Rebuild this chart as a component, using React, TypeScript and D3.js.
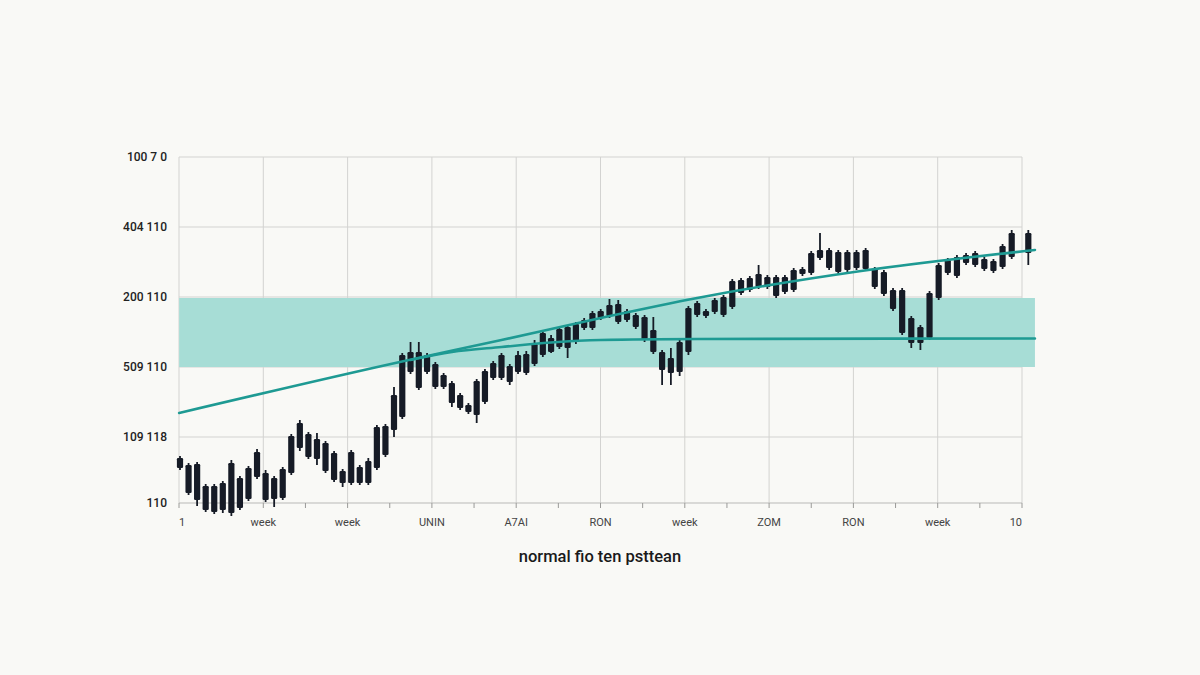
import { useEffect, useRef } from "react";
import * as d3 from "d3";

const width = 1200;
const height = 675;

// candle values (null = no trading in that slot)
const opens = [132, 135, 136, 114, 114, 90, 87, 122, 101, 123, 127, 122, 102, 127, 152, 166, 161, 157, 147, 129,
    117, 133, 117, 132, 145, 170, 183, 228, 248, 228, 236, 225, 217, 205, 195, 185, 198, 222, 222, 234,
    228, 246, 236, 245, 262, 253, 273, 258, 272, 272, 282, 284, 296, 289, 285, 283, 270, 248, 242, 228,
    248, 285, 289, 288, 285, 293, 307, 310, 313, 323, 323, 308, 310, 326, 327, 342, 350, 348, 330, 332,
    331, 331, 328, 310, 310, 282, 273, 262, 302, 327, 343, 337, 335, 341, 339, 333, 343, null, 367];
const closes = [142, 107, 100, 90, 88, 117, 137, 92, 132, 148, 100, 101, 131, 164, 177, 143, 141, 129, 120, 117,
    148, 117, 139, 173, 174, 205, 245, 248, 212, 245, 213, 213, 197, 192, 188, 219, 229, 237, 245, 218,
    245, 227, 256, 267, 248, 271, 252, 276, 280, 287, 289, 295, 278, 280, 273, 260, 248, 230, 227, 258,
    292, 297, 284, 300, 303, 319, 320, 322, 326, 313, 304, 323, 330, 331, 347, 350, 332, 328, 348, 348,
    350, 313, 306, 291, 267, 257, 257, 307, 335, 340, 324, 345, 347, 331, 329, 354, 367, null, 347];
const highs = [144, 137, 138, 116, 116, 119, 140, 124, 134, 151, 130, 124, 133, 166, 180, 168, 167, 159, 149, 131,
    150, 135, 142, 175, 176, 213, 247, 258, 258, 247, 238, 227, 219, 207, 197, 221, 231, 239, 247, 236,
    249, 249, 260, 269, 265, 273, 275, 278, 282, 289, 291, 301, 300, 291, 287, 285, 283, 250, 252, 260,
    294, 299, 291, 302, 305, 321, 322, 324, 335, 325, 325, 325, 332, 333, 349, 367, 352, 350, 350, 350,
    352, 333, 330, 312, 312, 284, 275, 309, 337, 342, 345, 347, 349, 343, 341, 356, 370, null, 370];
const lows = [130, 105, 94, 88, 86, 87, 84, 90, 99, 121, 98, 93, 100, 125, 149, 141, 135, 127, 118, 113,
    115, 115, 115, 130, 143, 163, 181, 226, 210, 226, 211, 211, 193, 190, 186, 177, 196, 220, 220, 215,
    226, 225, 234, 243, 247, 251, 242, 256, 270, 270, 280, 282, 276, 278, 271, 258, 246, 215, 215, 224,
    245, 283, 282, 286, 283, 291, 305, 308, 311, 311, 302, 306, 308, 324, 325, 340, 330, 326, 328, 330,
    329, 311, 304, 289, 265, 252, 250, 260, 300, 325, 322, 335, 333, 329, 327, 331, 341, null, 335];

// slot spacing is uneven in the source; anchor slots for a piecewise time scale
const slotAnchors = [0, 25, 50, 75, 96, 98];

// trend curves: [slot, value]
const trendUpper: [number, number][] = [[-0.1, 187], [25.7, 238], [38, 260], [50, 282], [61, 302], [79.5, 329], [98.8, 350]];
const trendLower: [number, number][] = [[27, 240], [32, 248], [38, 253], [44, 257.5], [50, 260], [61, 261], [98.8, 261.5]];

// shaded zone
const zoneLow = 233;
const zoneHigh = 302;
const zoneStart = -0.1;
const zoneEnd = 98.8;

const yTickValues = [443, 373, 303, 233, 163, 97];
const yTickLabels = ["100 7 0", "404 110", "200 110", "509 110", "109 118", "110"];
const xTickLabels = ["1", "week", "week", "UNIN", "A7AI", "RON", "week", "ZOM", "RON", "week", "10"];
const title = "normal fio ten psttean";

const plot = { left: 179, right: 1022, top: 157, bottom: 503 };

export default function App() {
    const ref = useRef<SVGSVGElement>(null);

    useEffect(() => {
        document.body.style.margin = "0";
        const svg = d3.select(ref.current);
        svg.selectAll("*").remove();

        const x = d3.scaleLinear().domain(slotAnchors).range([180, 394, 600.7, 820, 1011.7, 1028.3]);
        const y = d3.scaleLinear().domain([97, 443]).range([plot.bottom, plot.top]);
        const grid = d3.scaleLinear().domain([0, xTickLabels.length - 1]).range([plot.left, plot.right]);

        svg.append("rect")
            .attr("width", width)
            .attr("height", height)
            .attr("fill", "#f9f9f6");

        // grid
        const g = svg.append("g");
        g.selectAll("line.v")
            .data(d3.range(xTickLabels.length)).enter().append("line")
                .attr("x1", d => grid(d)).attr("x2", d => grid(d))
                .attr("y1", plot.top).attr("y2", plot.bottom)
                .attr("stroke", "#d3d3d1")
                .attr("stroke-width", 1);
        g.selectAll("line.h")
            .data(yTickValues).enter().append("line")
                .attr("x1", plot.left).attr("x2", plot.right)
                .attr("y1", d => y(d)).attr("y2", d => y(d))
                .attr("stroke", d => d === 97 ? "#b9b9b7" : "#d3d3d1")
                .attr("stroke-width", 1);

        // shaded zone
        svg.append("rect")
            .attr("x", x(zoneStart))
            .attr("y", y(zoneHigh))
            .attr("width", x(zoneEnd) - x(zoneStart))
            .attr("height", y(zoneLow) - y(zoneHigh))
            .attr("fill", "#a7ddd6");

        // x ticks (major on grid, minor between)
        const ticks = svg.append("g");
        ticks.selectAll("line")
            .data(d3.range(0, xTickLabels.length - 0.5, 0.5)).enter().append("line")
                .attr("x1", d => grid(d)).attr("x2", d => grid(d))
                .attr("y1", plot.bottom).attr("y2", plot.bottom + 5)
                .attr("stroke", "#9a9a98")
                .attr("stroke-width", 1);

        // candles
        const candles = d3.range(opens.length).filter(i => opens[i] !== null);
        const c = svg.append("g");
        c.selectAll("line")
            .data(candles).enter().append("line")
                .attr("x1", i => x(i)).attr("x2", i => x(i))
                .attr("y1", i => y(highs[i] as number))
                .attr("y2", i => y(lows[i] as number))
                .attr("stroke", "#161b26")
                .attr("stroke-width", 1.8);
        c.selectAll("rect")
            .data(candles).enter().append("rect")
                .attr("x", i => x(i) - 3.1)
                .attr("width", 6.2)
                .attr("y", i => y(Math.max(opens[i] as number, closes[i] as number)))
                .attr("height", i => Math.max(2, Math.abs(y(opens[i] as number) - y(closes[i] as number))))
                .attr("rx", 1.2)
                .attr("fill", "#161b26");

        // trend curves
        const line = d3.line<[number, number]>()
            .x(d => x(d[0]))
            .y(d => y(d[1]))
            .curve(d3.curveMonotoneX);
        [trendUpper, trendLower].forEach(pts => {
            svg.append("path")
                .attr("d", line(pts))
                .attr("fill", "none")
                .attr("stroke", "#1e9a93")
                .attr("stroke-width", 2.6)
                .attr("stroke-linecap", "round");
        });

        // labels
        const font = "Roboto, 'Liberation Sans', sans-serif";
        svg.append("g").selectAll("text")
            .data(yTickValues).enter().append("text")
                .attr("x", 167)
                .attr("y", d => y(d))
                .attr("dy", "0.35em")
                .attr("text-anchor", "end")
                .style("font-family", font)
                .style("font-size", "12px")
                .style("font-weight", 500)
                .attr("fill", "#222")
                .text((d, i) => yTickLabels[i]);

        svg.append("g").selectAll("text")
            .data(xTickLabels).enter().append("text")
                .attr("x", (d, i) => grid(i))
                .attr("y", 522)
                .attr("dy", "0.35em")
                .attr("text-anchor", (d, i) => i === 0 ? "start" : i === xTickLabels.length - 1 ? "end" : "middle")
                .style("font-family", font)
                .style("font-size", "11px")
                .attr("fill", "#444")
                .text(d => d);

        svg.append("text")
            .attr("x", 600)
            .attr("y", 556)
            .attr("dy", "0.35em")
            .attr("text-anchor", "middle")
            .style("font-family", font)
            .style("font-size", "16.5px")
            .style("font-weight", 500)
            .attr("fill", "#1a1a1a")
            .text(title);

        return () => {
            svg.selectAll("*").remove();
        };
    }, []);

    return <svg ref={ref} width={width} height={height} style={{ display: "block" }} />;
}
